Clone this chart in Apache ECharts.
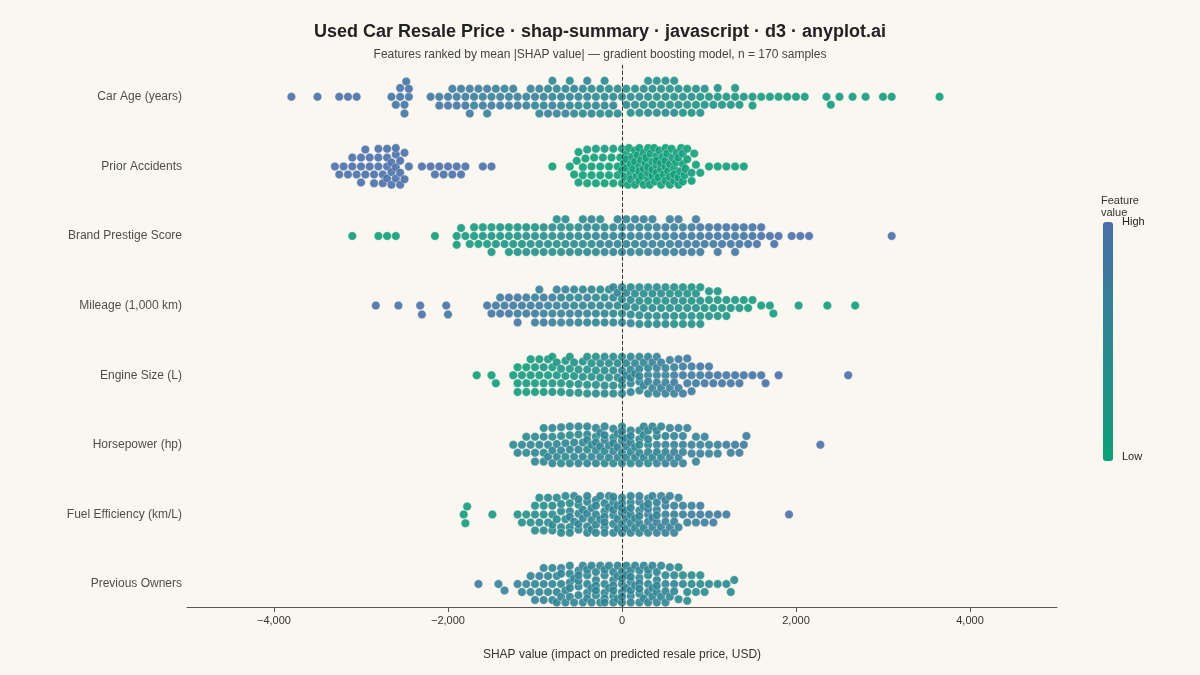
<!DOCTYPE html>
<html><head><meta charset="utf-8">
<script src="https://cdn.jsdelivr.net/npm/echarts@6/dist/echarts.min.js"></script>
<style>html,body{margin:0;background:#FAF7F1}#c{width:1200px;height:675px}</style>
</head><body><div id="c"></div>
<script>
// SHAP values in hundreds of USD : feature value level (0 low .. 9 high)
const features = ["Car Age (years)","Prior Accidents","Brand Prestige Score","Mileage (1,000 km)","Engine Size (L)","Horsepower (hp)","Fuel Efficiency (km/L)","Previous Owners"];
const carAge = "-38:9 -35:9 -32.5:9 -31.5:9 -30.5:9 -26.5:8 -26:8 -25.5:8 -25.5:9 -25:8 -25:8 -24.8:8 -24.5:8 -24.5:9 -22:8 -21:7 -21:8 -20:7 -20:8 -19.5:7 -19:7 -19:8 -18.5:7 -18:7 -18:8 -17.5:7 -17.5:7 -17:7 -17:6 -16.5:7 -16:6 -16:7 -15.5:7 -15.5:6 -15:6 -15:7 -14.5:6 -14:6 -14:7 -13.5:6 -13:6 -13:7 -12.5:6 -12:6 -12:7 -11:6 -11:6 -10.5:6 -10:6 -10:5 -9.5:6 -9.5:5 -9:6 -9:5 -8.5:5 -8.5:6 -8:5 -8:6 -8:5 -7.5:5 -7.5:6 -7:5 -7:5 -6.5:5 -6.5:6 -6:5 -6:5 -6:4 -5.5:5 -5.5:5 -5:5 -5:4 -4.5:5 -4.5:4 -4:5 -4:4 -4:5 -3.5:4 -3.5:5 -3:4 -3:5 -2.5:4 -2.5:4 -2:4 -2:5 -2:4 -1.5:4 -1.5:4 -1:4 -1:5 -0.5:4 -0.5:4 0:4 0.5:4 0.5:3 1:4 1:3 1.5:4 1.5:3 2:4 2:3 2.5:3 2.5:4 3:3 3:4 3:3 3.5:3 3.5:4 4:3 4:4 4:3 4.5:3 4.5:3 5:3 5:4 5:3 5.5:3 5.5:3 6:3 6:4 6:3 6.5:3 6.5:3 7:3 7:2 7.5:3 7.5:2 8:3 8:2 8.5:2 8.5:3 9:2 9:3 9.5:2 9.5:3 10:2 10.5:2 11:2 11:3 11.5:2 12:2 12.5:2 13:2 13:2 13.5:2 14:2 15:2 15:1 16:1 17:1 18:1 19:1 20:1 21:1 23.5:1 24:1 25:1 26.5:1 28:1 30:1 31:1 36.5:0";
const priorAccidents = "-33:9 -32.5:9 -32:9 -31.5:9 -31:9 -30.5:9 -30:9 -30:9 -29.5:9 -29:9 -29:9 -28.5:9 -28:9 -28:9 -27.5:9 -27.5:9 -27:9 -27:9 -27:9 -26.5:9 -26.5:9 -26.5:9 -26:9 -26:9 -26:9 -25.5:9 -25.5:9 -25:9 -25:9 -24.5:9 -23:9 -22:9 -21.5:9 -21:9 -20.5:9 -20:9 -19.5:9 -19:9 -18.5:9 -18:9 -16:9 -15:9 -31:9 -30:9 -28:9 -27:9 -26:9 -25.5:9 -29.5:9 -28.5:9 -8:0 -6:0 -5.5:0 -5:0 -5:1 -4.5:0 -4.5:0 -4:0 -4:1 -3.5:0 -3.5:0 -3:0 -3:1 -2.5:0 -2.5:0 -2:0 -2:1 -1.5:0 -1.5:0 -1:0 -1:1 -0.5:0 -0.5:0 0:0 0:1 0:0 0.5:0 0.5:0 0.5:1 1:0 1:0 1:1 1.5:0 1.5:0 1.5:0 2:0 2:1 2:0 2:0 2.5:0 2.5:0 2.5:1 3:0 3:0 3:1 3:0 3.5:0 3.5:0 3.5:0 4:0 4:1 4:0 4:0 4.5:0 4.5:0 4.5:1 5:0 5:0 5:0 5:1 5.5:0 5.5:0 5.5:0 6:0 6:1 6:0 6.5:0 6.5:0 6.5:0 7:0 7:1 7:0 7.5:0 7.5:0 8:0 8:1 8.5:0 9:0 10:0 11:0 12:1 13:0 14:0 0.2:0 0.8:0 1.2:1 1.8:0 2.2:0 2.8:0 3.2:1 3.8:0 4.2:0 4.8:0 5.2:0 5.8:1 6.2:0 6.8:0 7.2:0 -0.2:0 -1.2:0 -2.2:1 -3.2:0 -4.2:0 -5.2:0 0.3:0 1.3:0 2.3:0 3.3:0 4.3:1 5.3:0 6.3:0 7.3:0 0.7:0 1.7:0 2.7:0 3.7:0 4.7:0 5.7:0 6.7:1 8.3:0";
const brandPrestige = "-31:0 -28:0 -27:0 -26:0 -21.5:0 -19:1 -19:1 -18.5:1 -18:1 -17.5:1 -17:1 -16.5:1 -16:2 -15.5:1 -15:2 -15:1 -14.5:2 -14:2 -13.5:2 -13:2 -13:1 -12.5:2 -12:2 -11.5:2 -11:3 -11:2 -10.5:3 -10:3 -10:2 -9.5:3 -9:3 -9:3 -8.5:3 -8:3 -8:4 -7.5:3 -7:4 -7:3 -6.5:4 -6:4 -6:3 -5.5:4 -5:4 -5:4 -4.5:4 -4:4 -4:5 -3.5:4 -3:5 -3:4 -2.5:5 -2:5 -2:4 -1.5:5 -1:5 -1:5 -0.5:5 0:5 0:5 0.5:5 1:5 1:6 1.5:5 2:6 2:5 2.5:6 3:6 3:5 3.5:6 4:6 4:6 4.5:6 5:6 5:7 5.5:6 6:7 6:6 6.5:7 7:7 7:6 7.5:7 8:7 8:7 8.5:7 9:7 9:8 9.5:7 10:8 10.5:7 11:8 11:8 11.5:8 12:8 12.5:8 13:8 13:8 13.5:8 14:8 14.5:8 15:8 15.5:9 16:9 17:9 17.5:9 18:9 19.5:9 20.5:9 21.5:9 31:9 -9:3 -7:3 -5:4 -3:4 -1:5 1:5 3:6 5:6 7:7 9:7 -8:3 -6:4 -4:4 -2:5 0:5 2:5 4:6 6:6 8:7 -17:1 -14:2 -12:2 -15:2 -16:1 -13:2 -11:3 10:8 11:8 12:8 13:8 15:8 16:9 -6.5:4 -3.5:5 -0.5:5 2.5:6 5.5:6 8.5:7 -10:3 -12:2 14:8 -2.5:4 3.5:6 6.5:7 1.5:6 -4.5:4 -7.5:3 0.5:5";
const mileage = "-28.3:9 -25.7:9 -23.2:9 -23:9 -20.2:9 -20:8 -15.5:8 -15:8 -14.5:8 -14:8 -13.5:7 -13:8 -12.5:7 -12:7 -12:8 -11.5:7 -11:7 -10.5:7 -10:7 -10:6 -9.5:7 -9:6 -9:7 -8.5:6 -8:6 -8:7 -7.5:6 -7:6 -7:5 -6.5:6 -6:6 -6:5 -5.5:5 -5:6 -5:5 -4.5:5 -4:5 -4:6 -3.5:5 -3:5 -3:4 -2.5:5 -2:5 -2:4 -1.5:5 -1:4 -1:5 -0.5:4 0:4 0:5 0.5:4 1:4 1:5 1.5:4 2:4 2:4 2.5:4 3:4 3:3 3.5:4 4:4 4:3 4.5:3 5:4 5:3 5.5:3 6:3 6:4 6.5:3 7:3 7:3 7.5:3 8:3 8:2 8.5:3 9:2 9:3 9.5:2 10:2 10:3 10.5:2 11:2 11.5:2 12:2 12.5:2 13:2 14:1 15:1 16:1 17:1 17.4:1 20.3:1 23.6:0 26.8:0 -11:7 -9:7 -7:6 -5:5 -3:5 -1:5 1:4 3:4 5:4 7:3 9:3 -12:8 -8:6 -6:6 -4:5 -2:5 0:4 2:4 4:4 6:3 8:3 10:2 -13:8 -10:7 -7.5:6 -5.5:5 -2.5:4 0.5:5 2.5:4 4.5:4 6.5:3 8.5:3 11:2 -9.5:6 -6.5:6 -3.5:5 -0.5:5 1.5:4 3.5:4 5.5:3 7.5:3 12:2 -4.5:5 -1.5:4 4:4 6:3 8:2 0:5 2:4 -1:5 1:4 3:4 5:3 7:3 9:2 -14:7 11:2 14.5:1 13.5:2";
const engineSize = "-16.7:0 -15:0 -14.5:0 -12.5:1 -12:1 -12:0 -11.5:1 -11:1 -11:0 -10.5:1 -10:1 -10:1 -9.5:1 -9:1 -9:2 -8.5:1 -8:2 -8:1 -7.5:2 -7:2 -7:2 -6.5:2 -6:2 -6:3 -5.5:2 -5:3 -5:3 -4.5:3 -4:3 -4:3 -3.5:3 -3:3 -3:4 -2.5:3 -2:4 -2:4 -1.5:4 -1:4 -1:4 -0.5:4 0:4 0:5 0.5:5 1:5 1:5 1.5:5 2:5 2:5 2.5:5 3:6 3:5 3.5:6 4:6 4:6 4.5:6 5:6 5:6 5.5:6 6:7 6:6 6.5:7 7:7 7:7 7.5:7 8:7 8:7 8.5:7 9:7 9:8 9.5:8 10:8 10:8 10.5:8 11:8 11.5:8 12:8 12.5:8 13:8 13.5:8 14:8 15:8 16:8 16.5:9 18:9 26:9 -12:1 -10:1 -8:2 -6:2 -4:3 -2:4 0:4 2:5 4:6 6:7 8:7 -11:1 -9:1 -7:2 -5:3 -3:3 -1:4 1:5 3:5 5:6 7:7 -10.5:1 -8.5:2 -6.5:2 -4.5:3 -2.5:4 -0.5:4 1.5:5 3.5:6 5.5:6 7.5:7 -9.5:1 -7.5:2 -5.5:3 -3.5:3 -1.5:4 0.5:5 2.5:5 4.5:6 6.5:7 -4:3 -2:4 0:4 2:5 4:6 -3:3 -1:4 1:5 3:5 5:6 6:6 -6:2 -8:1 0:5 2:5 4:6 1:5 3:6";
const horsepower = "-12.5:4 -12:5 -11.5:5 -11:4 -10.5:5 -10:5 -10:4 -9.5:5 -9:4 -9:5 -8.5:5 -8:4 -8:5 -7.5:5 -7:4 -7:5 -6.5:5 -6:4 -6:5 -5.5:5 -5:4 -5:5 -4.5:5 -4:5 -4:4 -3.5:5 -3:4 -3:5 -2.5:5 -2:4 -2:5 -1.5:5 -1:4 -1:5 -0.5:5 0:4 0:5 0:5 0.5:5 1:5 1:4 1.5:5 2:5 2:5 2.5:5 3:5 3:4 3.5:5 4:6 4:5 4.5:5 5:6 5:5 5.5:6 6:6 6:5 6.5:6 7:6 7:6 7.5:6 8:6 8.5:6 9:6 9.5:6 10:6 11:6 12:7 13:7 14:7 14.3:7 22.8:9 -10:5 -8:5 -6:5 -4:5 -2:5 0:5 2:5 4:5 6:6 -9:5 -7:4 -5:5 -3:5 -1:4 1:5 3:5 5:5 7:6 -8.5:5 -6.5:4 -4.5:5 -2.5:5 -0.5:5 1.5:5 3.5:5 5.5:6 -7.5:5 -5.5:5 -3.5:4 -1.5:5 0.5:5 2.5:5 4.5:5 6.5:6 -6:5 -4:5 -2:4 0:5 2:5 4:6 -5:5 -3:5 -1:5 1:5 3:5 5:6 8:6 -7:5 9:6 -9:4 10:6 -2:5 0:5 2:4 -1:5 1:5 3:5 -3:5 4:5 6:6 -4:5 7:6 12.5:7 13.5:7 -11:4 -8:5 8.5:6 11:6 -0.5:5 0.5:5 2.5:4 -2.5:5";
const fuelEfficiency = "-18.2:1 -18:1 -17.8:1 -14.9:2 -12:3 -11.5:3 -11:3 -10.5:3 -10:4 -10:3 -9.5:4 -9:4 -9:3 -8.5:4 -8:4 -8:4 -7.5:4 -7:4 -7:5 -6.5:4 -6:5 -6:4 -5.5:5 -5:5 -5:4 -4.5:5 -4:5 -4:5 -3.5:5 -3:5 -3:5 -2.5:5 -2:5 -2:5 -1.5:5 -1:5 -1:5 -0.5:5 0:5 0:5 0.5:5 1:5 1:5 1.5:5 2:5 2:6 2.5:5 3:6 3:5 3.5:6 4:6 4:5 4.5:6 5:6 5:6 5.5:6 6:6 6:6 6.5:6 7:6 7.5:6 8:7 8.5:6 9:7 9.5:7 10:7 11:7 12:7 19.2:9 -10:4 -8:4 -6:4 -4:5 -2:5 0:5 2:5 4:6 6:6 -9:4 -7:4 -5:5 -3:5 -1:5 1:5 3:6 5:6 7:6 -8.5:4 -6.5:4 -4.5:5 -2.5:5 -0.5:5 1.5:5 3.5:6 5.5:6 -7.5:4 -5.5:5 -3.5:5 -1.5:5 0.5:5 2.5:5 4.5:6 6.5:6 -6:4 -4:5 -2:5 0:5 2:5 4:6 -5:5 -3:5 -1:5 1:5 3:5 5:6 -7:4 -4:5 -2:5 0:5 2:6 4:5 -3:5 -1:5 1:5 3:6 -6:5 -2:5 0:5 2:5 -1:5 1:5 3:5 -9.5:4 8:6 9:7 10.5:7 -0.5:5 0.5:5 -3.5:5 3.5:6 -8:4 5:6 6:6 -5:5";
const previousOwners = "-16.5:7 -14.2:6 -13.5:6 -12:6 -11.5:5 -11:6 -10.5:5 -10:5 -10:6 -9.5:5 -9:5 -9:6 -8.5:5 -8:5 -8:5 -7.5:5 -7:5 -7:6 -6.5:5 -6:5 -6:5 -5.5:5 -5:5 -5:6 -4.5:5 -4:5 -4:5 -3.5:5 -3:5 -3:5 -2.5:5 -2:5 -2:5 -1.5:5 -1:5 -1:4 -0.5:5 0:5 0:5 0.5:5 1:5 1:5 1.5:5 2:5 2:5 2.5:5 3:5 3:4 3.5:5 4:5 4:5 4.5:5 5:5 5:4 5.5:5 6:5 6:5 6.5:4 7:5 7.5:4 8:4 8.5:4 9:4 9.5:4 10:4 12.5:4 12.9:4 -9:5 -8:5 -7:5 -6:5 -5:5 -4:5 -3:5 -2:5 -1:5 0:5 1:5 2:5 3:5 4:5 5:5 6:5 7:4 -8.5:5 -7.5:5 -6.5:5 -5.5:5 -4.5:5 -3.5:5 -2.5:5 -1.5:5 -0.5:5 0.5:5 1.5:5 2.5:5 3.5:5 4.5:5 5.5:5 6.5:4 -7:5 -6:5 -5:5 -4:5 -3:5 -2:5 -1:5 0:5 1:5 2:5 3:5 4:5 5:5 -6:5 -4:5 -2:5 0:5 2:5 4:5 -5:5 -3:5 -1:5 1:5 3:5 -2:5 0:5 2:5 -1:5 1:5 -7.5:5 7.5:4 8:4 9:4 -9.5:6 -10.5:5 11:4 12:4 -0.5:5 0.5:5 -3.5:5 3.5:5";
const rows = [carAge, priorAccidents, brandPrestige, mileage, engineSize, horsepower, fuelEfficiency, previousOwners];
const xTicks = [-4000,-2000,0,2000,4000];

const PX_PER_HUNDRED = 8.7, PX_PER_ROW = 69.6, D = 8.6, MAXOFF = 19;
function parse(s){return s.trim().split(/\s+/).map(t=>t.split(':').map(Number));}
function swarm(list, rowY){
  const pts = parse(list).map(p=>({v:p[0],c:p[1],x:p[0]*PX_PER_HUNDRED})).sort((a,b)=>a.x-b.x);
  const placed=[]; const out=[];
  for(const p of pts){
    let best=0, bestScore=-1;
    for(let k=0;k<=2*MAXOFF/0.8+1;k++){
      const cand = k===0?0:(k%2? Math.ceil(k/2):-Math.ceil(k/2))*0.8;
      if(Math.abs(cand)>MAXOFF) continue;
      let minD=1e9;
      for(let i=placed.length-1;i>=0;i--){
        const q=placed[i]; const dx=p.x-q.x; if(dx>D) break;
        const ddy=cand-q.y; minD=Math.min(minD,Math.sqrt(dx*dx+ddy*ddy));
      }
      if(minD>=D){best=cand;bestScore=1e9;break;}
      if(minD>bestScore){bestScore=minD;best=cand;}
    }
    placed.push({x:p.x,y:best});
    out.push([p.v*100, rowY - best/PX_PER_ROW, p.c]);
  }
  return out;
}
const allData=[]; rows.forEach((r,i)=>allData.push(...swarm(r, 7-i)));
const fmt=v=>(v<0?'\u2212':'')+Math.abs(v).toLocaleString('en-US');
const chart=echarts.init(document.getElementById('c'));
chart.setOption({
  backgroundColor:'#FAF7F1',
  title:{text:'Used Car Resale Price · shap-summary · javascript · d3 · anyplot.ai',
    subtext:'Features ranked by mean |SHAP value| — gradient boosting model, n = 170 samples',
    left:'center',top:18,itemGap:8,
    textStyle:{fontSize:18,fontWeight:'bold',color:'#222',fontFamily:'Liberation Sans, Arial'},
    subtextStyle:{fontSize:12,color:'#444',fontFamily:'Liberation Sans, Arial'}},
  grid:{left:187,right:143,top:62,bottom:68},
  xAxis:{type:'value',min:-5000,max:5000,
    name:'SHAP value (impact on predicted resale price, USD)',nameLocation:'middle',nameGap:42,
    nameTextStyle:{fontSize:12,color:'#333',fontFamily:'Liberation Sans, Arial'},
    axisLine:{onZero:false,lineStyle:{color:'#555'}},axisTick:{show:true,lineStyle:{color:'#555'},
      customValues:xTicks},
    axisLabel:{customValues:xTicks,formatter:fmt,color:'#333',fontSize:11,margin:8},
    splitLine:{show:false}},
  yAxis:{type:'value',min:-0.33,max:7.5,show:false},
  visualMap:{type:'continuous',min:0,max:9,dimension:2,seriesIndex:0,padding:0,
    inRange:{color:['#0E9F78','#4A6FA8']},itemWidth:10,itemHeight:239,
    left:1103,top:222,text:null,calculable:false,showLabel:false},
  graphic:[
    {type:'text',left:1101,top:195,style:{text:'Feature\nvalue',fontSize:11,lineHeight:12,fill:'#333',fontFamily:'Liberation Sans, Arial'}},
    {type:'text',left:1122,top:216,style:{text:'High',fontSize:11,fill:'#222',fontFamily:'Liberation Sans, Arial'}},
    {type:'text',left:1122,top:451,style:{text:'Low',fontSize:11,fill:'#222',fontFamily:'Liberation Sans, Arial'}}
  ],
  series:[
    {type:'scatter',data:allData,symbolSize:8.5,
      itemStyle:{opacity:0.9,borderColor:'rgba(255,255,255,0.6)',borderWidth:0.6},
      markLine:{silent:true,symbol:'none',label:{show:false},
        lineStyle:{type:'dashed',color:'#333',width:1},
        data:[[{coord:[0,7.46]},{coord:[0,-0.33]}]]}},
    {type:'scatter',symbolSize:0,silent:true,
      data:features.map((f,i)=>({value:[-5000,7-i],name:f})),
      label:{show:true,position:'left',distance:5,formatter:p=>p.name,color:'#222',fontSize:12,fontFamily:'Liberation Sans, Arial'}}
  ]
});
</script></body></html>
